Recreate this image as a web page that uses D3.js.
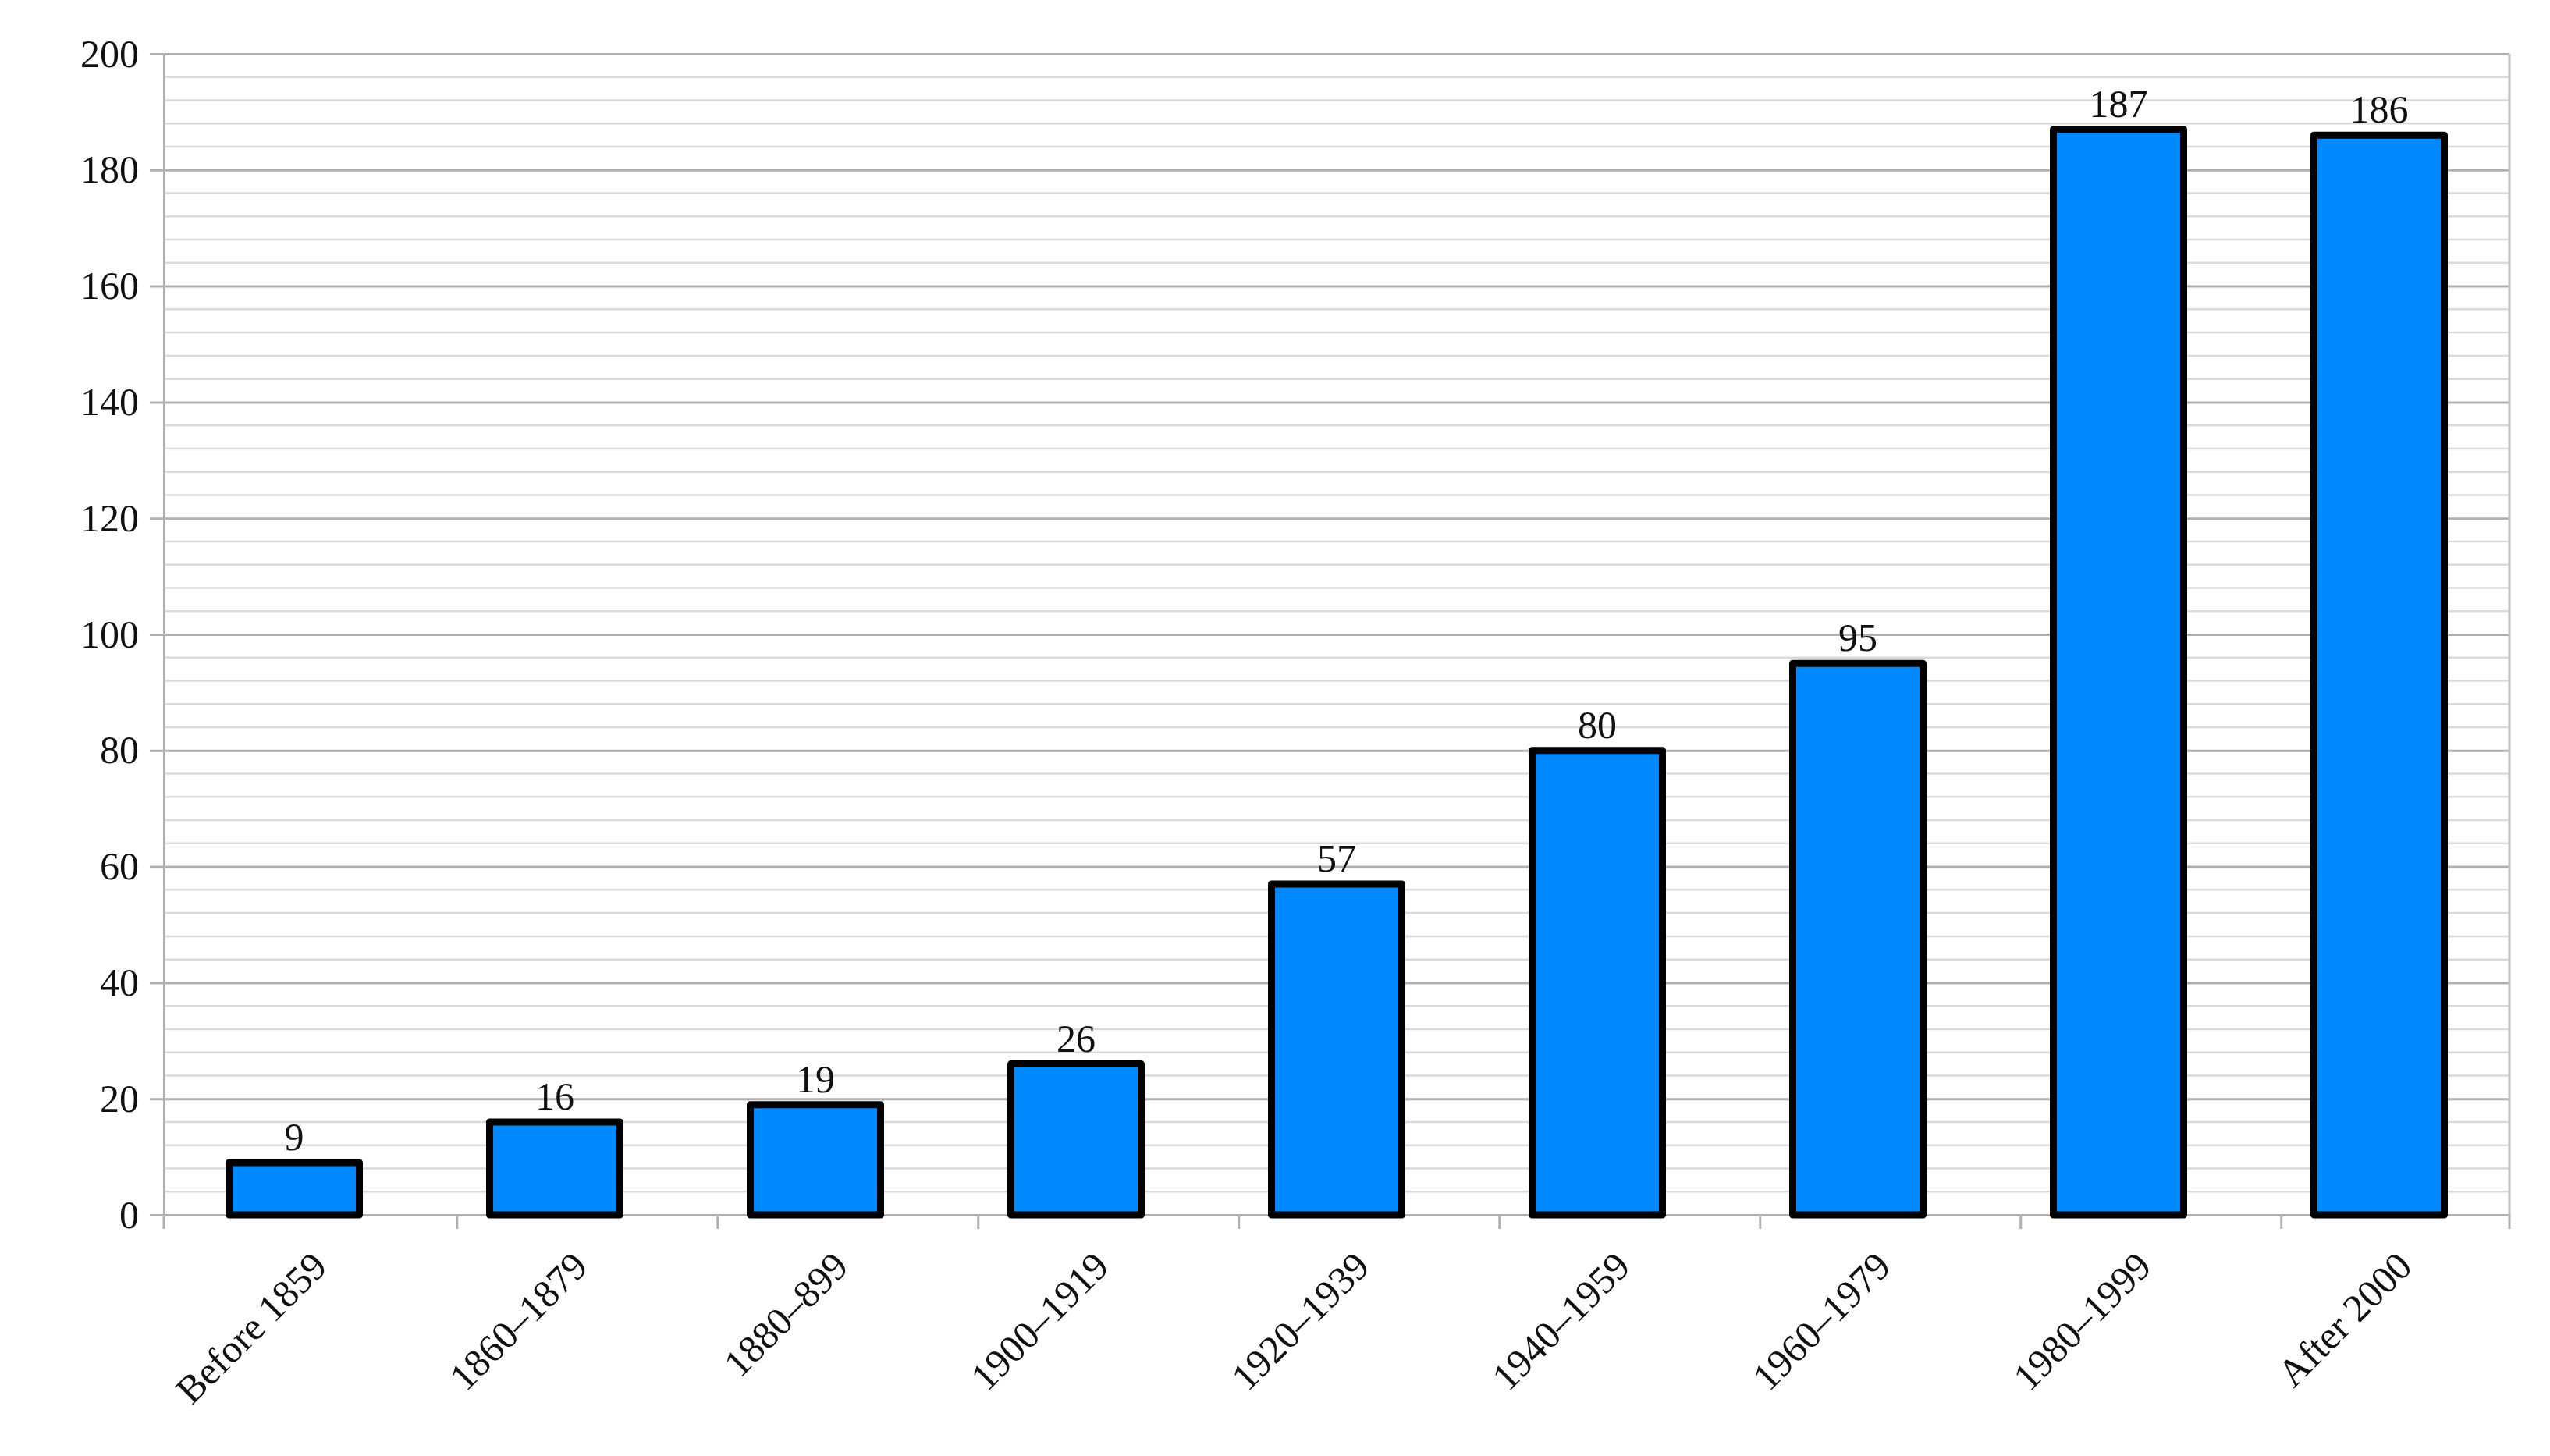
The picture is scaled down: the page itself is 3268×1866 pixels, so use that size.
<!DOCTYPE html>
<html lang="en">
<head>
<meta charset="UTF-8">
<script src="https://d3js.org/d3.v7.min.js"></script>
<style>
  body { margin: 0; background: #fff; }
  text { font-family: "Liberation Serif", "DejaVu Serif", serif; fill: #111; }
</style>
</head>
<body>
<div class="fig"></div>
<script>
// data
const categories = ["Before 1859", "1860\u20131879", "1880\u2013899", "1900\u20131919", "1920\u20131939",
                    "1940\u20131959", "1960\u20131979", "1980\u20131999", "After 2000"];
const counts = [9, 16, 19, 26, 57, 80, 95, 187, 186];
const yTicks = [0, 20, 40, 60, 80, 100, 120, 140, 160, 180, 200];

const width = 3268, height = 1866;
const margin = { top: 69, right: 52, bottom: 309, left: 210 };

const svg = d3.select(".fig").append("svg")
    .attr("width", width)
    .attr("height", height);

const x = d3.scaleBand()
    .domain(categories)
    .range([margin.left, width - margin.right])
    .paddingInner(0.5)
    .paddingOuter(0.25);

const y = d3.scaleLinear()
    .domain([0, 200])
    .range([height - margin.bottom, margin.top]);

// minor gridlines every 4
svg.append("g")
    .selectAll("line")
    .data(d3.range(0, 201, 4).filter(v => v % 20 !== 0))
    .enter().append("line")
    .attr("x1", margin.left).attr("x2", width - margin.right)
    .attr("y1", d => y(d)).attr("y2", d => y(d))
    .attr("stroke", "#dadada").attr("stroke-width", 2.5);

// major gridlines + y axis
const yAxis = svg.append("g")
    .attr("transform", `translate(${margin.left},0)`)
    .call(d3.axisLeft(y).tickValues(yTicks).tickSize(-(width - margin.left - margin.right)).tickPadding(32));
yAxis.select(".domain").attr("stroke", "#b0b0b0").attr("stroke-width", 3);
yAxis.selectAll(".tick line").attr("stroke", "#b0b0b0").attr("stroke-width", 3)
    .attr("x1", -18);
yAxis.selectAll(".tick text").attr("font-size", 50).attr("font-family", "Liberation Serif, serif");

// right border
svg.append("line")
    .attr("x1", width - margin.right).attr("x2", width - margin.right)
    .attr("y1", y(200)).attr("y2", y(0))
    .attr("stroke", "#c0c0c0").attr("stroke-width", 3);

// x axis with ticks between bands
const step = x.step();
const bounds = categories.map((c, i) => i === 0 ? margin.left : x(c) - x.paddingInner() * x.bandwidth() / 2)
    .concat([width - margin.right]);
svg.append("g").selectAll("line")
    .data(bounds)
    .enter().append("line")
    .attr("x1", d => d).attr("x2", d => d)
    .attr("y1", y(0)).attr("y2", y(0) + 18)
    .attr("stroke", "#b0b0b0").attr("stroke-width", 3);

// bars
svg.append("g").selectAll("rect")
    .data(counts)
    .enter().append("rect")
    .attr("x", (d, i) => x(categories[i]))
    .attr("y", d => y(d))
    .attr("width", x.bandwidth())
    .attr("height", d => y(0) - y(d))
    .attr("fill", "#0088ff")
    .attr("stroke", "#000")
    .attr("stroke-width", 9)
    .attr("stroke-linejoin", "round");

// value labels
svg.append("g").selectAll("text")
    .data(counts)
    .enter().append("text")
    .attr("x", (d, i) => x(categories[i]) + x.bandwidth() / 2)
    .attr("y", d => y(d) - 16)
    .attr("text-anchor", "middle")
    .attr("font-size", 50)
    .text(d => d);

// category labels rotated
svg.append("g").selectAll("text")
    .data(categories)
    .enter().append("text")
    .attr("transform", d => `translate(${x(d) + x.bandwidth() / 2 + 20},${y(0) + 44}) rotate(-45)`)
    .attr("text-anchor", "end")
    .attr("dy", "0.7em")
    .attr("font-size", 50)
    .text(d => d);
</script>
</body>
</html>
